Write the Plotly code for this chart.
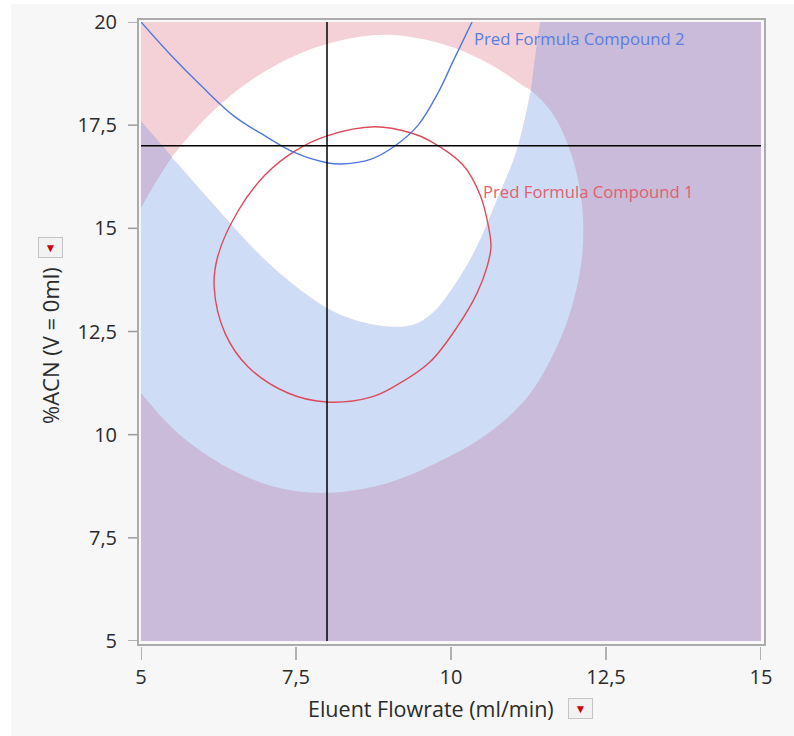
import plotly.graph_objects as go

# ---------------- data ----------------
x_ticks = [5, 7.5, 10, 12.5, 15]
x_ticktext = ["5", "7,5", "10", "12,5", "15"]
y_ticks = [5, 7.5, 10, 12.5, 15, 17.5, 20]
y_ticktext = ["5", "7,5", "10", "12,5", "15", "17,5", "20"]

x_title = "Eluent Flowrate (ml/min)"
y_title = "%ACN (V = 0ml)"

# crosshair (current settings)
cur_flow = 8.0
cur_acn = 17.0

# Compound 1 limit boundary (inside = within limits) -> edge of the purple area
c1_lim_x = [8.0, 8.98, 9.85, 10.55, 11.2, 11.65, 11.95, 12.12, 12.11, 11.95, 11.65, 11.28, 10.6, 9.9,
            8.98, 8.18, 7.4, 6.6, 6.0, 5.5, 5.0, 4.6, 4.45, 4.6, 5.0, 5.6, 6.4, 7.2, 8.0]
c1_lim_y = [8.59, 8.83, 9.38, 9.98, 10.85, 11.95, 13.1, 14.4, 15.6, 16.75, 17.75, 18.35, 19.0, 19.45,
            19.69, 19.54, 19.13, 18.4, 17.6, 16.72, 15.49, 14.3, 13.0, 11.8, 11.01, 10.03, 9.2, 8.72, 8.59]

# Compound 2 limit boundary (inside = within limits) -> edge of the pink area
c2_lim_x = [4.4, 4.5, 5.0, 6.0, 6.89, 7.37, 8.0, 8.45, 9.0, 9.4, 9.7, 10.0, 10.39, 10.74, 11.06,
            11.26, 11.35, 11.44, 11.55, 11.6, 4.4]
c2_lim_y = [21.0, 18.47, 17.60, 15.87, 14.40, 13.75, 13.07, 12.78, 12.62, 12.67, 12.95, 13.5, 14.48, 15.69, 16.90,
            18.11, 19.08, 20.0, 20.8, 21.0, 21.0]

# region where both compounds are within limits (white)
ok_x = [5.50, 5.57, 6.0, 6.6, 7.4, 8.18, 8.98, 9.9, 10.6, 11.2, 11.28, 11.265,
        11.06, 10.74, 10.39, 10.0, 9.7, 9.4, 9.0, 8.45, 8.0, 7.37, 6.89, 6.0, 5.57, 5.50]
ok_y = [16.72, 16.86, 17.6, 18.4, 19.13, 19.54, 19.69, 19.45, 19.0, 18.42, 18.35, 18.2,
        16.90, 15.69, 14.48, 13.5, 12.95, 12.67, 12.62, 12.78, 13.07, 13.75, 14.40, 15.87, 16.60, 16.72]

# Pred Formula Compound 1 contour (closed)
pf1_x = [8.77, 9.36, 9.66, 10.19, 10.47, 10.60, 10.645, 10.58, 10.42, 10.10, 9.66, 9.10, 8.71, 8.0,
         7.37, 6.73, 6.355, 6.18, 6.24, 6.565, 7.0, 7.48, 8.0, 8.77]
pf1_y = [17.46, 17.31, 17.12, 16.54, 15.81, 15.08, 14.55, 14.06, 13.43, 12.61, 11.76, 11.18, 10.91, 10.79,
         11.01, 11.64, 12.46, 13.58, 14.33, 15.42, 16.29, 16.87, 17.24, 17.46]

# Pred Formula Compound 2 contour
pf2_x = [5.0, 5.48, 6.0, 6.5, 7.0, 7.5, 8.0, 8.25, 8.7, 9.1, 9.47, 9.79, 10.05, 10.34]
pf2_y = [20.0, 19.2, 18.41, 17.72, 17.24, 16.82, 16.59, 16.56, 16.67, 17.0, 17.5, 18.28, 19.1, 20.0]

label_pf1 = "Pred Formula Compound 1"
label_pf2 = "Pred Formula Compound 2"

# ---------------- styling ----------------
PAGE = "#f7f7f7"
PINK = "#f4d1d6"
BLUE = "#cfdcf5"
PURPLE = "#c9bbd9"
RED_LINE = "#dc4a5a"
BLUE_LINE = "#5078dc"
FONT = "Open Sans"
TXT = "#2b2b2b"
SMOOTH = 1.0

W, H = 794, 736
L, R, T, B = 141, 33, 22, 95
PW, PH = W - L - R, H - T - B

fig = go.Figure()


def area(xs, ys, color):
    fig.add_trace(go.Scatter(x=xs, y=ys, mode="lines",
                             line=dict(width=0, shape="spline", smoothing=SMOOTH), fill="toself",
                             fillcolor=color, hoverinfo="skip", showlegend=False))


area(c1_lim_x, c1_lim_y, BLUE)
area(c2_lim_x, c2_lim_y, PINK)
area(ok_x, ok_y, "white")

fig.add_trace(go.Scatter(x=pf1_x, y=pf1_y, mode="lines",
                         line=dict(color=RED_LINE, width=1.4, shape="spline", smoothing=SMOOTH),
                         hoverinfo="skip", showlegend=False))
fig.add_trace(go.Scatter(x=pf2_x, y=pf2_y, mode="lines",
                         line=dict(color=BLUE_LINE, width=1.4, shape="spline", smoothing=SMOOTH),
                         hoverinfo="skip", showlegend=False))
fig.add_trace(go.Scatter(x=[cur_flow, cur_flow], y=[5, 20], mode="lines",
                         line=dict(color="black", width=1.5), hoverinfo="skip", showlegend=False))
fig.add_trace(go.Scatter(x=[5, 15], y=[cur_acn, cur_acn], mode="lines",
                         line=dict(color="black", width=1.5), hoverinfo="skip", showlegend=False))

shapes = []
# white strips at the page edge
shapes.append(dict(type="rect", xref="paper", yref="paper", x0=-L / PW, x1=(11 - L) / PW,
                   y0=-B / PH, y1=1 + T / PH, fillcolor="white", line=dict(width=0), layer="below"))
shapes.append(dict(type="rect", xref="paper", yref="paper", x0=-L / PW, x1=1 + R / PW,
                   y0=1 + (T - 4) / PH, y1=1 + T / PH, fillcolor="white", line=dict(width=0), layer="below"))
# purple base of the data area
shapes.append(dict(type="rect", xref="x", yref="y", x0=5, x1=15, y0=5, y1=20,
                   fillcolor=PURPLE, line=dict(width=0), layer="below"))
# frame
shapes.append(dict(type="rect", xref="paper", yref="paper", x0=-3 / PW, x1=1 + 4 / PW,
                   y0=-4 / PH, y1=1 + 3 / PH, line=dict(color="#ababab", width=2), layer="above"))
# tick marks
for v in x_ticks:
    shapes.append(dict(type="line", xref="x", yref="paper", x0=v, x1=v, y0=-6 / PH, y1=-19 / PH,
                       line=dict(color="#9a9a9a", width=1.5)))
for v in y_ticks:
    shapes.append(dict(type="line", xref="paper", yref="y", x0=-4 / PW, x1=-13 / PW, y0=v, y1=v,
                       line=dict(color="#9a9a9a", width=1.5)))

annotations = [
    dict(text=label_pf2, x=10.34, y=19.61, xref="x", yref="y", xanchor="left", yanchor="middle",
         showarrow=False, font=dict(family=FONT, size=16.7, color="#5a7ee0")),
    dict(text=label_pf1, x=10.48, y=15.90, xref="x", yref="y", xanchor="left", yanchor="middle",
         showarrow=False, font=dict(family=FONT, size=16.7, color="#e0606e")),
    dict(text=x_title, x=(431 - L) / PW, y=(641 - 709) / PH, xref="paper", yref="paper",
         xanchor="center", yanchor="middle", showarrow=False, font=dict(family=FONT, size=21.5, color=TXT)),
    dict(text=y_title, x=(50 - L) / PW, y=(641 - 346) / PH, xref="paper", yref="paper", textangle=-90,
         xanchor="center", yanchor="middle", showarrow=False, font=dict(family=FONT, size=22, color=TXT)),
    dict(text="▼", x=(580 - L) / PW, y=(641 - 708) / PH, xref="paper", yref="paper",
         xanchor="center", yanchor="middle", showarrow=False, font=dict(size=12, color="#cc0000"),
         bgcolor="#f2f2f2", bordercolor="#c4c4c4", borderwidth=1, width=21, height=17),
    dict(text="▼", x=(50 - L) / PW, y=(641 - 247) / PH, xref="paper", yref="paper",
         xanchor="center", yanchor="middle", showarrow=False, font=dict(size=12, color="#cc0000"),
         bgcolor="#f2f2f2", bordercolor="#c4c4c4", borderwidth=1, width=21, height=17),
]

fig.update_layout(
    width=W, height=H, margin=dict(l=L, r=R, t=T, b=B, autoexpand=False),
    paper_bgcolor=PAGE, plot_bgcolor=PAGE,
    shapes=shapes, annotations=annotations, showlegend=False,
    xaxis=dict(range=[5, 15], tickvals=x_ticks, ticktext=x_ticktext, showgrid=False, zeroline=False,
               showline=False, ticks="outside", ticklen=18, tickcolor="rgba(0,0,0,0)", automargin=False,
               tickfont=dict(family=FONT, size=20, color=TXT), fixedrange=True),
    yaxis=dict(range=[5, 20], tickvals=y_ticks, ticktext=y_ticktext, showgrid=False, zeroline=False,
               showline=False, ticks="outside", ticklen=19, tickcolor="rgba(0,0,0,0)", automargin=False,
               tickfont=dict(family=FONT, size=20, color=TXT), fixedrange=True),
)

fig.write_html("out.html")
